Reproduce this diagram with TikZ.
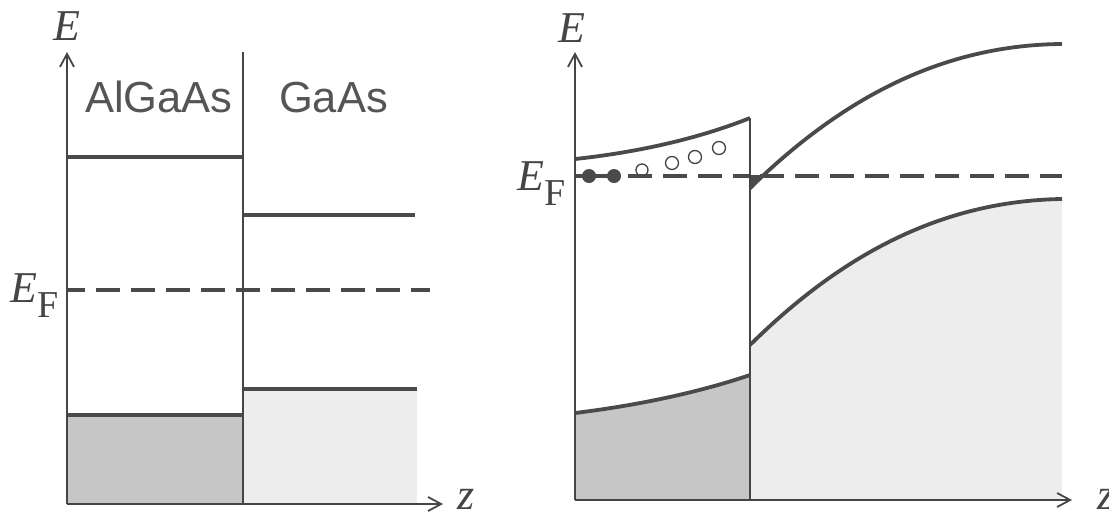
\documentclass[tikz,border=0pt]{standalone}
\usepackage{fontspec}
\setmainfont{Liberation Serif}
\newfontfamily\sansf{Liberation Sans}
\usetikzlibrary{arrows.meta}
\definecolor{lvc}{HTML}{4A4A4A}
\definecolor{axc}{HTML}{454545}
\definecolor{txc}{HTML}{555555}
\definecolor{darkfill}{HTML}{C6C6C6}
\definecolor{lightfill}{HTML}{EDEDED}
\newcommand{\EFlab}{E\raisebox{-15pt}{\fontsize{38}{40}\selectfont\upshape F}}
\begin{document}
\begin{tikzpicture}[x=1pt,y=-1pt,
  axis/.style={line width=1.8pt, draw=axc, -{Straight Barb[length=13pt,width=14pt,line width=1.8pt]}},
  level/.style={line width=3.8pt, draw=lvc},
  thinline/.style={line width=1.8pt, draw=axc},
  efline/.style={line width=3.8pt, draw=lvc, dash pattern=on 24pt off 11pt},
  lbl/.style={font=\fontsize{44}{48}\selectfont\itshape, inner sep=0pt, text=axc},
  mat/.style={font=\sansf\fontsize{43.5}{48}\selectfont, inner sep=0pt, text=txc},
  hole/.style={line width=1.3pt, draw=axc, fill=white},
  elec/.style={fill=lvc}
]
\useasboundingbox (0,0) rectangle (1109,515);

% ---------- left panel ----------
\coordinate (O1) at (67,504);
\coordinate (E1) at (67,52);
\coordinate (Z1) at (443,504);
\coordinate (D1t) at (243,52);
\coordinate (D1b) at (243,504);

\fill[darkfill] (67,415) rectangle (243,504);
\fill[lightfill] (243,389) rectangle (417,504);

\draw[level] (67,157) -- (243,157);
\draw[level] (243,215) -- (415,215);
\draw[level] (67,415) -- (243,415);
\draw[level] (243,389) -- (417,389);
\draw[efline, dash phase=6pt] (67,290) -- (430,290);
\draw[thinline] (D1t) -- (D1b);
\draw[axis] (O1) -- (E1);
\draw[axis] (O1) -- (Z1);

\node[lbl, anchor=base] (lE1) at (67,40) {E};
\node[lbl, anchor=base west] (lz1) at (457,509) {z};
\node[lbl, anchor=base west] (lEF1) at (10,302) {\EFlab};
\node[mat, anchor=base] (alg) at (159,112) {AlGaAs};
\node[mat, anchor=base] (gaas) at (333.5,112) {GaAs};

% ---------- right panel ----------
\coordinate (O2) at (575,500);
\coordinate (E2) at (575,52);
\coordinate (Z2) at (1072,500);
\coordinate (I2t) at (750,118);
\coordinate (I2b) at (750,500);

\fill[darkfill] (575,413) .. controls (640,405) and (700,392) .. (750,375) -- (750,500) -- (575,500) -- cycle;
\fill[lightfill] (750,345) .. controls (830,266) and (930,201) .. (1062,199) -- (1062,500) -- (750,500) -- cycle;

\draw[level] (575,159) .. controls (640,152) and (700,138) .. (I2t);
\draw[level] (575,413) .. controls (640,405) and (700,392) .. (750,375);
\draw[level] (750,188) .. controls (830,110) and (930,45) .. (1062,44);
\draw[level] (750,345) .. controls (830,266) and (930,201) .. (1062,199);
\fill[lvc] (750,175) -- (765,175) -- (750,191) -- cycle;

% holes above Fermi level
\draw[hole] (642,170) circle (6pt);
\draw[hole] (672,163) circle (6.5pt);
\draw[hole] (695,157) circle (6.5pt);
\draw[hole] (719,148) circle (6.5pt);

\draw[level] (575,176) -- (620,176);
\draw[efline] (628,176) -- (750,176);
\draw[efline] (760,176) -- (1062,176);
\fill[elec] (589,176) circle (7pt);
\fill[elec] (614,176) circle (7pt);

\draw[thinline] (I2t) -- (I2b);
\draw[axis] (O2) -- (E2);
\draw[axis] (O2) -- (Z2);

\node[lbl, anchor=base] (lE2) at (572,42) {E};
\node[lbl, anchor=base west] (lz2) at (1097,509) {z};
\node[lbl, anchor=base west] (lEF2) at (517,190) {\EFlab};
\end{tikzpicture}
\end{document}
